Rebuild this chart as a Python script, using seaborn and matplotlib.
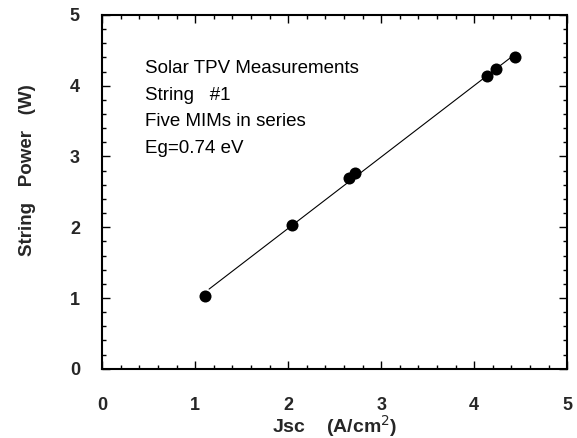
import matplotlib
matplotlib.use("Agg")
import matplotlib.pyplot as plt
import numpy as np
import pandas as pd
import seaborn as sns
from matplotlib.ticker import MultipleLocator

# Solar TPV string measurements
jsc = [1.11, 2.04, 2.65, 2.72, 4.14, 4.23, 4.44]
power = [1.03, 2.03, 2.69, 2.76, 4.13, 4.23, 4.41]
notes = ["Solar TPV Measurements", "String   #1", "Five MIMs in series", "Eg=0.74 eV"]

sns.set_theme(style="ticks")
plt.rcParams["font.family"] = ["Liberation Sans", "DejaVu Sans"]

df = pd.DataFrame({"jsc": jsc, "power": power})

fig = plt.figure(figsize=(5.77, 4.38), dpi=100)
ax = fig.add_axes([0.177, 0.158, 0.806, 0.808])

# linear fit through the measurements
m, b = np.polyfit(df["jsc"], df["power"], 1)
x_line = np.linspace(df["jsc"].min() + 0.04, df["jsc"].max(), 50)
ax.plot(x_line, m * x_line + b, color="black", linewidth=0.8)

sns.scatterplot(data=df, x="jsc", y="power", ax=ax, color="black",
                s=75, edgecolor="black", linewidth=0, zorder=3)

ax.set_xlim(0, 5)
ax.set_ylim(0, 5)
ax.xaxis.set_major_locator(MultipleLocator(1))
ax.xaxis.set_minor_locator(MultipleLocator(0.2))
ax.yaxis.set_major_locator(MultipleLocator(1))
ax.yaxis.set_minor_locator(MultipleLocator(0.2))
ax.tick_params(which="both", direction="in", top=True, right=True,
               color="black", width=1)
ax.tick_params(which="major", length=6, labelsize=13)
ax.tick_params(axis="x", which="major", pad=20)
ax.tick_params(axis="y", which="major", pad=16)
ax.tick_params(which="minor", length=3)
for lbl in ax.get_xticklabels() + ax.get_yticklabels():
    lbl.set_fontweight("bold")
for sp in ax.spines.values():
    sp.set_linewidth(1.5)
    sp.set_color("black")

ax.set_xlabel("Jsc    (A/cm$^2$)", fontsize=14, fontweight="bold")
ax.set_ylabel("String   Power   (W)", fontsize=13.5, fontweight="bold")
ax.xaxis.set_label_coords(0.5, -0.125)
ax.yaxis.set_label_coords(-0.142, 0.56)

for i, t in enumerate(notes):
    ax.text(0.46, 4.24 - i * 0.375, t, fontsize=13.5, color="black", va="center")

fig.savefig("out.png", dpi=100, facecolor="white")
